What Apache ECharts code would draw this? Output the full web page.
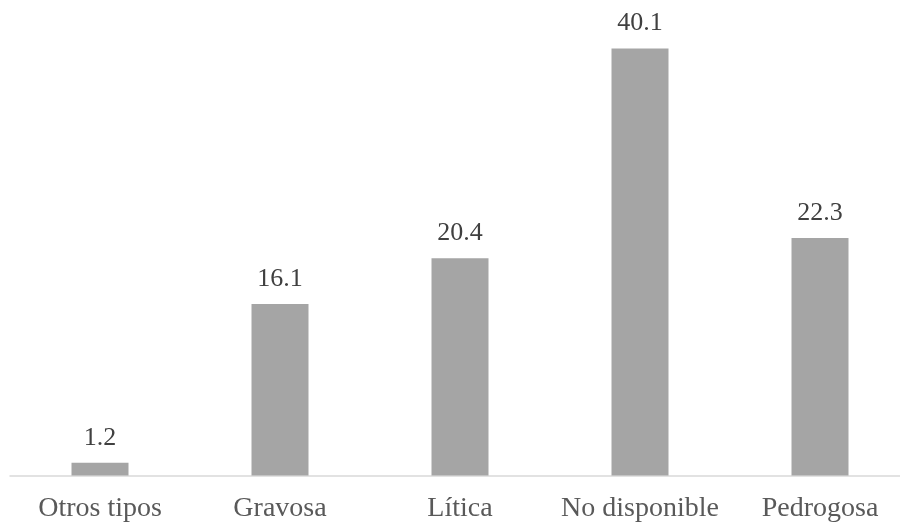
<!DOCTYPE html>
<html>
<head>
<meta charset="utf-8">
<script src="https://cdn.jsdelivr.net/npm/echarts@6/dist/echarts.min.js"></script>
<style>
  html, body { margin: 0; padding: 0; background: #ffffff; }
  #chart { width: 900px; height: 524px; }
</style>
</head>
<body>
<div id="chart"></div>
<script>
// Soil type categories and their percentages
const categories = ['Otros tipos', 'Gravosa', 'Lítica', 'No disponible', 'Pedrogosa'];
const values = [1.2, 16.1, 20.4, 40.1, 22.3];

const SERIF = 'Liberation Serif';

const chart = echarts.init(document.getElementById('chart'), null, { renderer: 'canvas' });

chart.setOption({
  animation: false,
  backgroundColor: '#ffffff',
  grid: {
    left: 10, top: 7, right: -10, bottom: 48.5,
    containLabel: false,
    outerBoundsMode: 'none'
  },
  xAxis: {
    type: 'category',
    data: categories,
    axisLine: { show: true, lineStyle: { color: '#D9D9D9', width: 1.5 } },
    axisTick: { show: false },
    axisLabel: {
      interval: 0,
      margin: 19,
      color: '#595959',
      fontFamily: SERIF,
      fontSize: 28,
      hideOverlap: false
    }
  },
  yAxis: {
    type: 'value',
    min: 0,
    max: 44,
    show: false,
    splitLine: { show: false }
  },
  series: [{
    type: 'bar',
    data: values,
    barWidth: 57,
    itemStyle: { color: '#A5A5A5' },
    label: {
      show: true,
      position: 'top',
      distance: 12,
      color: '#404040',
      fontFamily: SERIF,
      fontSize: 26,
      formatter: p => p.value.toFixed(1)
    }
  }]
});
</script>
</body>
</html>
